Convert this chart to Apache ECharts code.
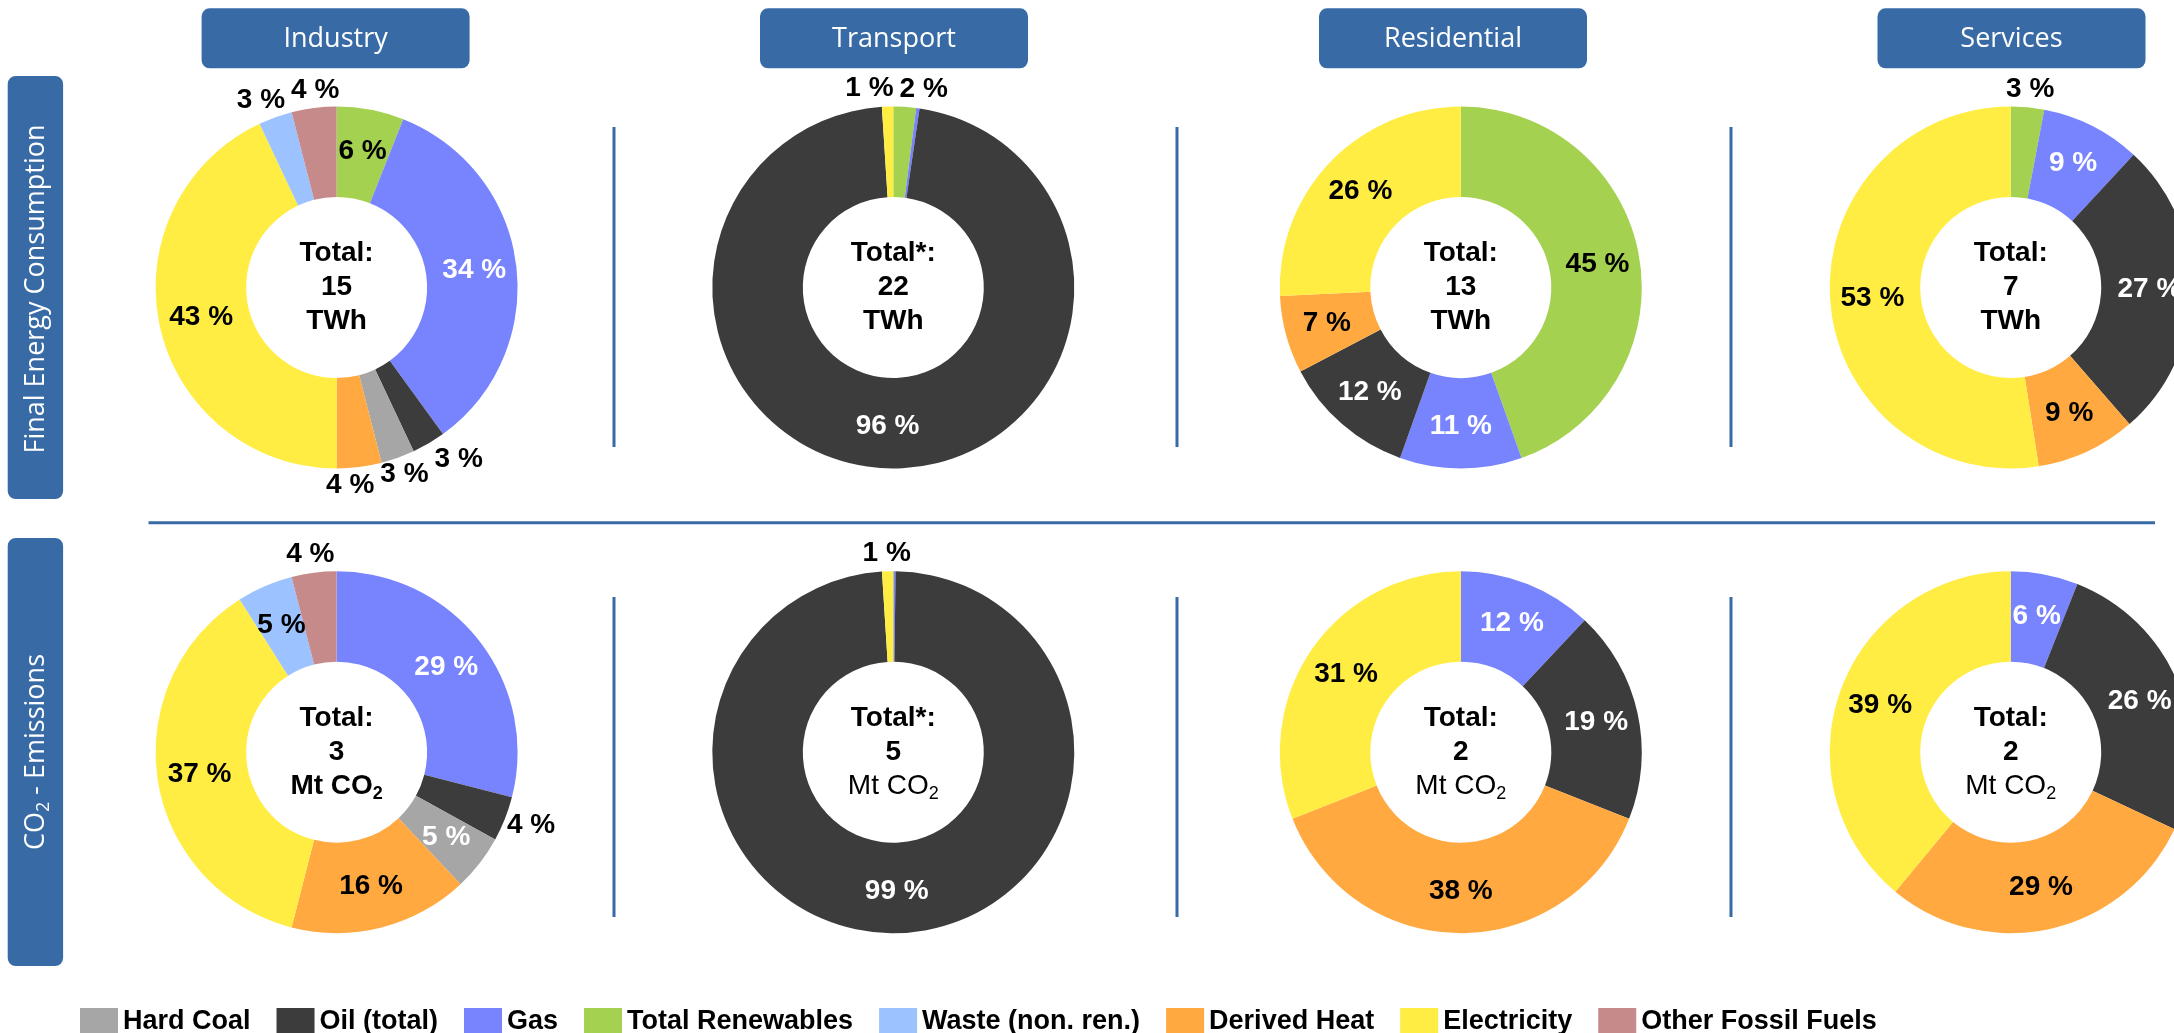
<!DOCTYPE html>
<html><head><meta charset="utf-8">
<script src="https://cdn.jsdelivr.net/npm/echarts/dist/echarts.min.js"></script>
<style>html,body{margin:0;padding:0;background:#fff}#c{width:2174px;height:1033px}</style>
</head><body><div id="c"></div>
<script>
// ---------- DATA ----------
const sectors = ['Industry', 'Transport', 'Residential', 'Services'];
const rowTitleFEC = 'Final Energy Consumption';
const pieOrder = ['Total Renewables', 'Gas', 'Oil (total)', 'Hard Coal', 'Derived Heat', 'Electricity', 'Waste (non. ren.)', 'Other Fossil Fuels'];
const legendOrder = ['Hard Coal', 'Oil (total)', 'Gas', 'Total Renewables', 'Waste (non. ren.)', 'Derived Heat', 'Electricity', 'Other Fossil Fuels'];

// shares in % (pie order)
const fecIndustry    = [6, 34, 3, 3, 4, 43, 3, 4];
const fecTransport   = [2, 0.3, 96, 0, 0, 1, 0, 0];
const fecResidential = [45, 11, 12, 0, 7, 26, 0, 0];
const fecServices    = [3, 9, 27, 0, 9, 53, 0, 0];
const co2Industry    = [0, 29, 4, 5, 16, 37, 5, 4];
const co2Transport   = [0, 0.2, 99, 0, 0, 1, 0, 0];
const co2Residential = [0, 12, 19, 0, 38, 31, 0, 0];
const co2Services    = [0, 6, 26, 0, 29, 39, 0, 0];

const totalLabels = ['Total:', 'Total*:', 'Total:', 'Total:'];
const fecTotals = ['15', '22', '13', '7'];
const co2Totals = ['3', '5', '2', '2'];

// ---------- STYLE / LAYOUT ----------
const colors = {
  'Hard Coal': '#A6A6A6', 'Oil (total)': '#3C3C3C', 'Gas': '#7884FE',
  'Total Renewables': '#A5D150', 'Waste (non. ren.)': '#9CC2FF',
  'Derived Heat': '#FFA940', 'Electricity': '#FFED43', 'Other Fossil Fuels': '#C78A8A'
};
const whiteLabel = new Set(['Gas', 'Oil (total)', 'Hard Coal']);
const BLUE = '#386BA6';
const FONT = '"Liberation Sans", Arial, sans-serif';
const UIFONT = '"Open Sans", "Noto Sans", sans-serif';
const colX = [336.6, 893.3, 1460.8, 2010.7];
const headerX = [335.6, 894, 1453, 2011.5];
const rowY = [287.5, 752.2];
const R_OUT = 181, R_IN = 90.5, GAP = 4, LFS = 28, LH = 28;

const cnv = document.createElement('canvas');
const ctx = cnv.getContext('2d');
ctx.font = 'bold ' + LFS + 'px ' + FONT;
const fmt = v => Math.round(v) + ' %';

function resolve(list) {
  for (let it = 0; it < 30; it++) {
    let moved = false;
    for (let i = 0; i < list.length; i++) for (let j = i + 1; j < list.length; j++) {
      const a = list[i], b = list[j];
      const ox = Math.min(a.x + a.w / 2, b.x + b.w / 2) - Math.max(a.x - a.w / 2, b.x - b.w / 2) + 6;
      const oy = (a.h + b.h) / 2 - Math.abs(a.y - b.y);
      if (ox > 0 && oy > 0) {
        const s = ox / 2;
        if (a.x <= b.x) { a.x -= s; b.x += s; } else { a.x += s; b.x -= s; }
        moved = true;
      }
    }
    if (!moved) break;
  }
}

function buildSeries(values, row, col) {
  const cx = colX[col], cy = rowY[row];
  const items = [];
  values.forEach((v, i) => { if (v > 0) items.push({ name: pieOrder[i], value: v }); });
  const sum = items.reduce((a, b) => a + b.value, 0);
  let cum = 0;
  const outside = [];
  const data = items.map((it, k) => {
    const mid = (cum + it.value / 2) / sum * 2 * Math.PI; cum += it.value;
    const show = it.value >= 1;
    const isOut = it.value < 5;
    if (show && isOut) {
      const w = ctx.measureText(fmt(it.value)).width;
      const dx = Math.sin(mid), dy = -Math.cos(mid);
      const px = cx + (R_OUT + GAP) * dx, py = cy + (R_OUT + GAP) * dy;
      outside.push({ k, x: px + dx * w / 2, y: py + dy * LH / 2, w, h: LH });
    }
    return {
      name: it.name, value: it.value,
      itemStyle: { color: colors[it.name] },
      label: { show, position: isOut ? 'outside' : 'inside',
               color: (!isOut && whiteLabel.has(it.name)) ? '#fff' : '#000' }
    };
  });
  resolve(outside);
  const pos = {};
  outside.forEach(o => { pos[o.k] = o; });
  return {
    type: 'pie', center: [cx, cy], radius: [R_IN, R_OUT], startAngle: 90, clockwise: true,
    avoidLabelOverlap: false, silent: true, animation: false,
    label: { fontFamily: FONT, fontSize: LFS, fontWeight: 'bold', formatter: p => fmt(p.value) },
    labelLine: { show: false },
    data,
    labelLayout: p => {
      const o = pos[p.dataIndex];
      return o ? { x: o.x, y: o.y, align: 'center', verticalAlign: 'middle' } : {};
    }
  };
}

const fecRows = [fecIndustry, fecTransport, fecResidential, fecServices];
const co2Rows = [co2Industry, co2Transport, co2Residential, co2Services];
const series = [];
fecRows.forEach((v, c) => series.push(buildSeries(v, 0, c)));
co2Rows.forEach((v, c) => series.push(buildSeries(v, 1, c)));

// ---------- GRAPHICS ----------
const rich = {
  b: { fontFamily: FONT, fontSize: 28, fontWeight: 'bold', lineHeight: 34, fill: '#000' },
  n: { fontFamily: FONT, fontSize: 28, fontWeight: 'normal', lineHeight: 34, fill: '#000' },
  bs: { fontFamily: FONT, fontSize: 18, fontWeight: 'bold', verticalAlign: 'bottom', fill: '#000' },
  ns: { fontFamily: FONT, fontSize: 18, fontWeight: 'normal', verticalAlign: 'bottom', fill: '#000' }
};
const graphic = [];
sectors.forEach((s, c) => {
  graphic.push({ type: 'rect', shape: { x: headerX[c] - 134, y: 8.3, width: 268, height: 60, r: 8 }, style: { fill: BLUE }, silent: true });
  graphic.push({ type: 'text', x: headerX[c], y: 39, style: { text: s, fill: '#fff', font: '27px ' + UIFONT, align: 'center', verticalAlign: 'middle' }, silent: true });
  graphic.push({ type: 'text', x: colX[c], y: rowY[0], style: {
    text: `{b|${totalLabels[c]}}\n{b|${fecTotals[c]}}\n{b|TWh}`, rich, align: 'center', verticalAlign: 'middle' }, silent: true, z: 10 });
  const u = c === 0 ? 'b' : 'n';
  graphic.push({ type: 'text', x: colX[c], y: rowY[1], style: {
    text: `{b|${totalLabels[c]}}\n{b|${co2Totals[c]}}\n{${u}|Mt CO}{${u}s|2}`, rich, align: 'center', verticalAlign: 'middle' }, silent: true, z: 10 });
});
// left row boxes
graphic.push({ type: 'rect', shape: { x: 7.7, y: 76, width: 55.4, height: 423, r: 8 }, style: { fill: BLUE }, silent: true });
graphic.push({ type: 'rect', shape: { x: 7.7, y: 538, width: 55.4, height: 428, r: 8 }, style: { fill: BLUE }, silent: true });
graphic.push({ type: 'text', x: 36, y: 289, rotation: Math.PI / 2, style: { text: rowTitleFEC, fill: '#fff', font: '27px ' + UIFONT, align: 'center', verticalAlign: 'middle' }, silent: true });
graphic.push({ type: 'text', x: 36, y: 752, rotation: Math.PI / 2, style: {
  text: '{t|CO}{s|2}{t| - Emissions}', align: 'center', verticalAlign: 'middle',
  rich: { t: { fontFamily: UIFONT, fontSize: 27, fill: '#fff', lineHeight: 34 }, s: { fontFamily: UIFONT, fontSize: 18, fill: '#fff', verticalAlign: 'bottom' } } }, silent: true });
// separators
graphic.push({ type: 'line', shape: { x1: 148.5, y1: 522.7, x2: 2155, y2: 522.7 }, style: { stroke: BLUE, lineWidth: 3 }, silent: true });
[614, 1177, 1731].forEach(x => {
  graphic.push({ type: 'line', shape: { x1: x, y1: 127, x2: x, y2: 447 }, style: { stroke: BLUE, lineWidth: 3 }, silent: true });
  graphic.push({ type: 'line', shape: { x1: x, y1: 597, x2: x, y2: 917 }, style: { stroke: BLUE, lineWidth: 3 }, silent: true });
});

const chart = echarts.init(document.getElementById('c'), null, { renderer: 'canvas' });
chart.setOption({
  backgroundColor: '#fff',
  animation: false,
  legend: {
    data: legendOrder, left: 75, top: 1003, itemWidth: 38, itemHeight: 27, itemGap: 26,
    icon: 'rect', selectedMode: false,
    textStyle: { fontFamily: FONT, fontSize: 27, fontWeight: 'bold', color: '#000' }
  },
  series,
  graphic
});
</script></body></html>
